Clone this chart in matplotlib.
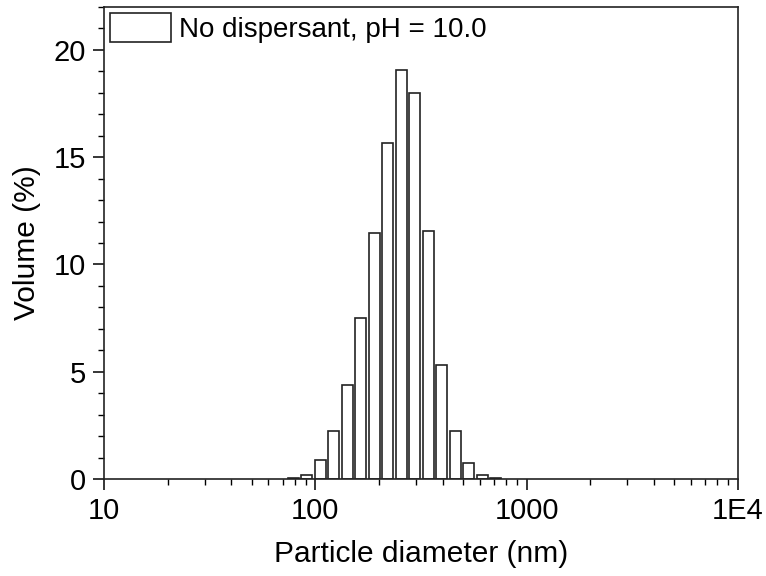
import numpy as np
import matplotlib
matplotlib.use('Agg')
import matplotlib.pyplot as plt
from matplotlib.ticker import FixedLocator, LogLocator, MultipleLocator, NullFormatter

plt.rcParams['font.family'] = ['Liberation Sans', 'DejaVu Sans']

# size classes (nm) and volume distribution (%)
sizes = [78.82, 91.28, 105.7, 122.4, 141.8, 164.2, 190.1, 220.2,
         255.0, 295.3, 342.0, 396.1, 458.7, 531.2, 615.1, 712.4]
volume = [0.05, 0.2, 0.87, 2.23, 4.37, 7.49, 11.49, 15.68,
          19.08, 18.0, 11.58, 5.32, 2.23, 0.75, 0.19, 0.05]
label = 'No dispersant, pH = 10.0'
xticks = [10, 100, 1000, 10000]
xticklabels = ['10', '100', '1000', '1E4']

# bin spacing of the size classes in decades, bars fill ~82% of it
step = np.log10(10000 / 0.4) / 69
half = 0.82 * step / 2

fig = plt.figure(figsize=(7.66, 5.76), dpi=100)
ax = fig.add_axes([0.1358, 0.1684, 0.8276, 0.8194])

s = np.array(sizes)
left = s * 10 ** (-half)
right = s * 10 ** half
ax.bar(left, volume, width=right - left, align='edge',
       facecolor='white', edgecolor='#222222', linewidth=1.2, label=label)

ax.set_xscale('log')
ax.set_xlim(10, 10000)
ax.set_ylim(0, 22)

ax.xaxis.set_major_locator(FixedLocator(xticks))
ax.set_xticklabels(xticklabels)
ax.xaxis.set_minor_locator(LogLocator(base=10, subs=np.arange(2, 10)))
ax.xaxis.set_minor_formatter(NullFormatter())
ax.yaxis.set_major_locator(MultipleLocator(5))
ax.yaxis.set_minor_locator(MultipleLocator(1))

ax.tick_params(which='major', direction='out', length=8, width=1.1, labelsize=21, pad=5)
ax.tick_params(which='minor', direction='out', length=4, width=1.0)
ax.tick_params(top=False, right=False)
for sp in ax.spines.values():
    sp.set_linewidth(1.2)
    sp.set_color('#222222')

ax.set_xlabel('Particle diameter (nm)', fontsize=21.5, labelpad=11)
ax.set_ylabel('Volume (%)', fontsize=21.5, labelpad=9)

ax.legend(loc='upper left', bbox_to_anchor=(0, 1), borderaxespad=0,
          borderpad=0.2, frameon=False, fontsize=20,
          handlelength=2.2, handleheight=1.25, handletextpad=0.3)

fig.savefig('out.png', dpi=100)
